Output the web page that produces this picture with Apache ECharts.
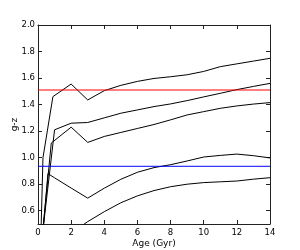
<!DOCTYPE html>
<html>
<head>
<meta charset="utf-8">
<script src="https://cdn.jsdelivr.net/npm/echarts@6/dist/echarts.min.js"></script>
<style>
html,body{margin:0;padding:0;background:#fff;}
#c{width:300px;height:250px;}
</style>
</head>
<body>
<div id="c"></div>
<script>
// Data
var xTicks = [0, 2, 4, 6, 8, 10, 12, 14];
var yTicks = [0.6, 0.8, 1.0, 1.2, 1.4, 1.6, 1.8, 2.0];

var ages1 = [0.15, 0.3, 0.9, 2, 3, 4, 5, 6, 7, 8, 9, 10, 11, 12, 13, 14];
var gz1   = [0.3, 1.0, 1.46, 1.555, 1.435, 1.505, 1.545, 1.575, 1.597, 1.61, 1.625, 1.65, 1.686, 1.707, 1.728, 1.749];

var ages2 = [0.2, 1, 2, 3, 4, 5, 6, 7, 8, 9, 10, 11, 12, 13, 14];
var gz2   = [0.35, 1.21, 1.26, 1.265, 1.30, 1.335, 1.36, 1.385, 1.405, 1.43, 1.458, 1.485, 1.513, 1.537, 1.56];

var ages3 = [0.25, 0.8, 2, 3, 4, 5, 6, 7, 8, 9, 10, 11, 12, 13, 14];
var gz3   = [0.4, 1.11, 1.23, 1.115, 1.16, 1.19, 1.22, 1.25, 1.285, 1.322, 1.347, 1.372, 1.39, 1.404, 1.415];

var ages4 = [0.2, 0.6, 1, 2, 3, 4, 5, 6, 7, 8, 9, 10, 11, 12, 13, 14];
var gz4   = [0.3, 0.88, 0.848, 0.771, 0.695, 0.77, 0.837, 0.89, 0.925, 0.947, 0.975, 1.005, 1.017, 1.027, 1.015, 0.998];

var ages5 = [2, 3, 4, 5, 6, 7, 8, 9, 10, 11, 12, 13, 14];
var gz5   = [0.43, 0.518, 0.593, 0.66, 0.712, 0.752, 0.781, 0.80, 0.812, 0.818, 0.824, 0.838, 0.849];

var redLevel = 1.51;
var blueLevel = 0.935;
var xRange = [0, 14];
var yRange = [0.5, 2.0];

function pairs(xs, ys) { return xs.map(function (x, i) { return [x, ys[i]]; }); }

var FONT = 'DejaVu Sans';
var axisCol = '#222';

function curve(xs, ys) {
  return {
    type: 'line', data: pairs(xs, ys), showSymbol: false, symbol: 'none',
    lineStyle: { color: '#000', width: 1 }, clip: true, animation: false,
    xAxisIndex: 0, yAxisIndex: 0
  };
}
function level(v, col) {
  return {
    type: 'line', data: pairs(xRange, [v, v]), showSymbol: false, symbol: 'none',
    lineStyle: { color: col, width: 1 }, clip: true, animation: false, z: 5,
    xAxisIndex: 0, yAxisIndex: 0
  };
}

var chart = echarts.init(document.getElementById('c'), null, { renderer: 'canvas' });
function baseAxis(range, ticks) {
  return {
    type: 'value', min: range[0], max: range[1],
    axisLine: { show: true, onZero: false, lineStyle: { color: axisCol, width: 1 } },
    axisTick: { show: true, inside: true, length: 4, customValues: ticks, lineStyle: { color: axisCol } },
    splitLine: { show: false }
  };
}

chart.setOption({
  animation: false,
  backgroundColor: '#fff',
  grid: { left: 38, right: 30, top: 25, bottom: 26, containLabel: false, outerBoundsMode: 'none' },
  xAxis: [
    Object.assign(baseAxis(xRange, xTicks), {
      position: 'bottom',
      name: 'Age (Gyr)', nameLocation: 'middle', nameGap: 15, nameMoveOverlap: false,
      nameTextStyle: { fontFamily: FONT, fontSize: 9, color: '#000' },
      axisLabel: { show: true, margin: 4, fontFamily: FONT, fontSize: 8.5, color: '#000',
        customValues: xTicks, formatter: function (v) { return String(v); } }
    }),
    Object.assign(baseAxis(xRange, xTicks), { position: 'top', axisLabel: { show: false } })
  ],
  yAxis: [
    Object.assign(baseAxis(yRange, yTicks), {
      position: 'left',
      name: 'g-z', nameLocation: 'middle', nameGap: 19, nameMoveOverlap: false,
      nameTextStyle: { fontFamily: FONT, fontSize: 9, color: '#000' },
      axisLabel: { show: true, margin: 3, fontFamily: FONT, fontSize: 8.5, color: '#000',
        customValues: yTicks, formatter: function (v) { return v.toFixed(1); } }
    }),
    Object.assign(baseAxis(yRange, yTicks), { position: 'right', axisLabel: { show: false } })
  ],
  series: [
    curve(ages1, gz1),
    curve(ages2, gz2),
    curve(ages3, gz3),
    curve(ages4, gz4),
    curve(ages5, gz5),
    level(redLevel, '#ff0000'),
    level(blueLevel, '#0000ff')
  ]
});
</script>
</body>
</html>
